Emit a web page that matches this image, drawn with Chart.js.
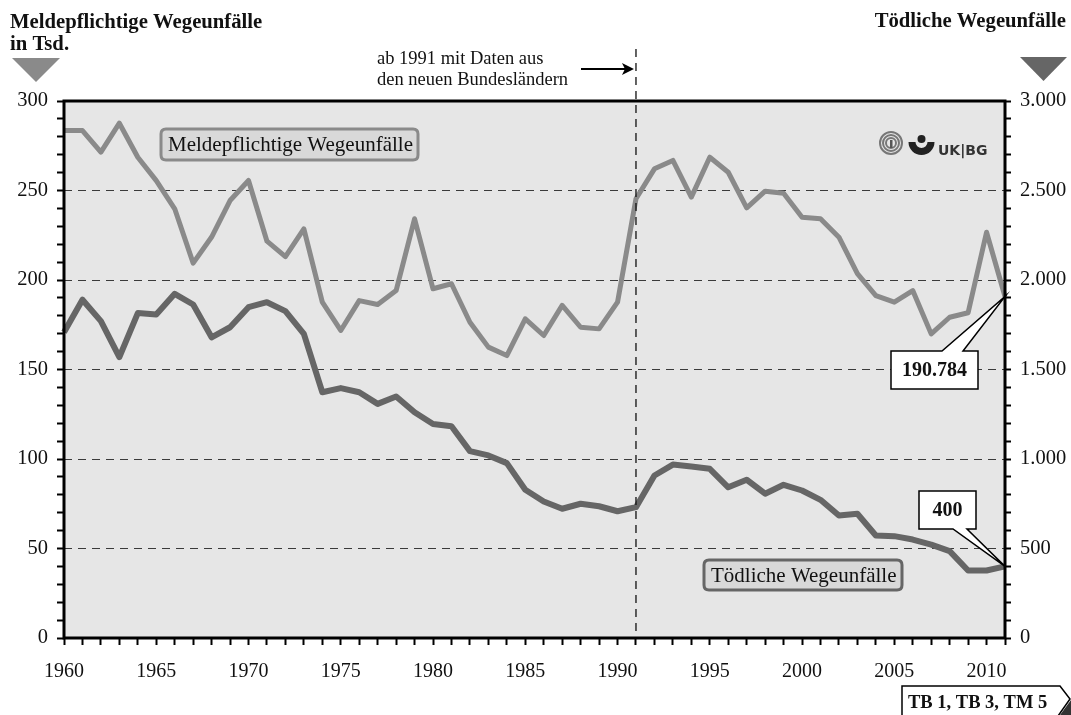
<!DOCTYPE html>
<html lang="de">
<head>
<meta charset="utf-8">
<title>Wegeunfälle 1960-2011</title>
<script src="https://cdn.jsdelivr.net/npm/chart.js@4.4.0/dist/chart.umd.min.js"></script>
<style>
  html, body { margin: 0; padding: 0; background: #fff; }
  #wrap { width: 1071px; height: 715px; }
</style>
</head>
<body>
<div id="wrap"><canvas id="chart" width="1071" height="715"></canvas></div>
<script>
// Jahre
const years = [1960, 1961, 1962, 1963, 1964, 1965, 1966, 1967, 1968, 1969,
  1970, 1971, 1972, 1973, 1974, 1975, 1976, 1977, 1978, 1979,
  1980, 1981, 1982, 1983, 1984, 1985, 1986, 1987, 1988, 1989,
  1990, 1991, 1992, 1993, 1994, 1995, 1996, 1997, 1998, 1999,
  2000, 2001, 2002, 2003, 2004, 2005, 2006, 2007, 2008, 2009,
  2010, 2011];

// Meldepflichtige Wegeunfälle in Tsd. (linke Achse)
const meldepflichtig = [283.5, 283.5, 271.4, 287.6, 268.6, 255.5, 239.8, 209.4, 224.0, 244.4,
  255.6, 221.7, 213.1, 228.6, 187.6, 171.8, 188.5, 186.3, 194.1, 234.2,
  195.1, 197.9, 176.4, 162.5, 157.8, 178.3, 169.0, 185.8, 173.6, 172.7,
  187.6, 245.4, 262.1, 266.8, 246.3, 268.6, 260.2, 240.3, 249.6, 248.5,
  235.1, 234.2, 223.9, 203.5, 191.3, 187.6, 194.1, 169.9, 179.2, 181.7,
  226.7, 190.784];

// Tödliche Wegeunfälle (rechte Achse)
const toedlich = [1708, 1890, 1770, 1569, 1815, 1807, 1923, 1863, 1680, 1736,
  1848, 1876, 1826, 1699, 1373, 1396, 1373, 1308, 1349, 1261,
  1196, 1183, 1044, 1020, 977, 828, 763, 722, 750, 736,
  708, 731, 908, 969, 958, 945, 842, 884, 806, 856,
  824, 772, 684, 694, 573, 569, 550, 522, 485, 377,
  377, 400];

// Achsen
const leftMax = 300, leftStep = 50, leftMinor = 10;
const rightMax = 3000, rightStep = 500, rightMinor = 100;

const serif = "'Liberation Serif', 'Times New Roman', serif";

function tausender(v) {
  // 3000 -> "3.000"
  const s = String(v);
  return s.length > 3 ? s.slice(0, s.length - 3) + "." + s.slice(-3) : s;
}

function roundRect(ctx, x, y, w, h, r) {
  ctx.beginPath();
  ctx.moveTo(x + r, y);
  ctx.lineTo(x + w - r, y);
  ctx.quadraticCurveTo(x + w, y, x + w, y + r);
  ctx.lineTo(x + w, y + h - r);
  ctx.quadraticCurveTo(x + w, y + h, x + w - r, y + h);
  ctx.lineTo(x + r, y + h);
  ctx.quadraticCurveTo(x, y + h, x, y + h - r);
  ctx.lineTo(x, y + r);
  ctx.quadraticCurveTo(x, y, x + r, y);
  ctx.closePath();
}

// Hintergrund, Rahmen, Beschriftungen
const deko = {
  id: "deko",
  beforeDraw(chart) {
    const { ctx, chartArea: a } = chart;
    ctx.save();
    ctx.fillStyle = "#e6e6e6";
    ctx.fillRect(a.left, a.top, a.right - a.left, a.bottom - a.top);
    ctx.restore();
  },
  afterDatasetsDraw(chart) {
    const { ctx, chartArea: a, scales } = chart;
    // Linie ab 1991
    const x91 = scales.x.getPixelForValue(years.indexOf(1991));
    ctx.save();
    ctx.strokeStyle = "#111";
    ctx.lineWidth = 1.3;
    ctx.setLineDash([8, 6]);
    ctx.beginPath();
    ctx.moveTo(x91, 49);
    ctx.lineTo(x91, a.bottom);
    ctx.stroke();
    ctx.setLineDash([]);

    // Pfeil
    ctx.strokeStyle = "#000";
    ctx.lineWidth = 2;
    ctx.beginPath();
    ctx.moveTo(581, 69);
    ctx.lineTo(x91 - 8, 69);
    ctx.stroke();
    ctx.fillStyle = "#000";
    ctx.beginPath();
    ctx.moveTo(x91 - 2, 69);
    ctx.lineTo(x91 - 14, 63);
    ctx.lineTo(x91 - 11, 69);
    ctx.lineTo(x91 - 14, 75);
    ctx.closePath();
    ctx.fill();

    ctx.font = "18.5px " + serif;
    ctx.fillStyle = "#111";
    ctx.textAlign = "left";
    ctx.textBaseline = "alphabetic";
    ctx.fillText("ab 1991 mit Daten aus", 377, 64);
    ctx.fillText("den neuen Bundesländern", 377, 85);

    // Rahmen
    ctx.strokeStyle = "#000";
    ctx.lineWidth = 3;
    ctx.strokeRect(a.left, a.top, a.right - a.left, a.bottom - a.top);

    // Serienbeschriftungen
    ctx.font = "21px " + serif;
    ctx.textBaseline = "middle";
    roundRect(ctx, 161, 129, 257, 31, 5);
    ctx.fillStyle = "#d9d9d9";
    ctx.fill();
    ctx.strokeStyle = "#8a8a8a";
    ctx.lineWidth = 3;
    ctx.stroke();
    ctx.fillStyle = "#111";
    ctx.fillText("Meldepflichtige Wegeunfälle", 168, 145);

    roundRect(ctx, 704, 560, 198, 30, 5);
    ctx.fillStyle = "#d9d9d9";
    ctx.fill();
    ctx.strokeStyle = "#666";
    ctx.stroke();
    ctx.fillStyle = "#111";
    ctx.fillText("Tödliche Wegeunfälle", 711, 576);

    // Werte 2011
    const last = years.length - 1;
    const p1 = chart.getDatasetMeta(0).data[last];
    const p2 = chart.getDatasetMeta(1).data[last];
    ctx.lineWidth = 1.5;
    ctx.strokeStyle = "#000";
    ctx.fillStyle = "#fff";
    // 190.784 (Spitze oben)
    ctx.beginPath();
    ctx.moveTo(891, 351);
    ctx.lineTo(942, 351);
    ctx.lineTo(p1.x, p1.y);
    ctx.lineTo(963, 351);
    ctx.lineTo(978, 351);
    ctx.lineTo(978, 389);
    ctx.lineTo(891, 389);
    ctx.closePath();
    ctx.fill();
    ctx.stroke();
    // 400 (Spitze unten)
    ctx.beginPath();
    ctx.moveTo(919, 491);
    ctx.lineTo(976, 491);
    ctx.lineTo(976, 529);
    ctx.lineTo(967, 529);
    ctx.lineTo(p2.x, p2.y);
    ctx.lineTo(953, 529);
    ctx.lineTo(919, 529);
    ctx.closePath();
    ctx.fill();
    ctx.stroke();
    ctx.fillStyle = "#111";
    ctx.font = "bold 20px " + serif;
    ctx.textAlign = "center";
    ctx.fillText("190.784", 934.5, 371);
    ctx.fillText("400", 947.5, 511);

    // Logo
    ctx.strokeStyle = "#777";
    ctx.lineWidth = 2;
    [11, 8, 5].forEach((r) => {
      ctx.beginPath();
      ctx.arc(891, 143, r, 0, Math.PI * 2);
      ctx.stroke();
    });
    ctx.fillStyle = "#555";
    ctx.fillRect(890, 140, 2.5, 8);
    ctx.fillStyle = "#222";
    ctx.beginPath();
    ctx.arc(921.5, 139, 4, 0, Math.PI * 2);
    ctx.fill();
    ctx.beginPath();
    ctx.arc(921.5, 142, 13, 0, Math.PI);
    ctx.arc(921.5, 142, 6, Math.PI, 0, true);
    ctx.closePath();
    ctx.fill();
    ctx.font = "bold 14px 'DejaVu Sans', sans-serif";
    ctx.textAlign = "left";
    ctx.textBaseline = "alphabetic";
    ctx.fillStyle = "#333";
    ctx.fillText("UK|BG", 938, 155);
    ctx.restore();
  },
  afterDraw(chart) {
    const { ctx } = chart;
    ctx.save();
    // Achsentitel
    ctx.fillStyle = "#111";
    ctx.font = "bold 20.7px " + serif;
    ctx.textBaseline = "alphabetic";
    ctx.textAlign = "left";
    ctx.fillText("Meldepflichtige Wegeunfälle", 10, 28);
    ctx.fillText("in Tsd.", 10, 50);
    ctx.textAlign = "right";
    ctx.fillText("Tödliche Wegeunfälle", 1066, 27);

    // Dreiecke
    ctx.fillStyle = "#8a8a8a";
    ctx.beginPath();
    ctx.moveTo(12, 58);
    ctx.lineTo(60, 58);
    ctx.lineTo(36, 82);
    ctx.closePath();
    ctx.fill();
    ctx.fillStyle = "#666";
    ctx.beginPath();
    ctx.moveTo(1020, 57);
    ctx.lineTo(1067, 57);
    ctx.lineTo(1043.5, 81);
    ctx.closePath();
    ctx.fill();

    // Fußzeile
    ctx.fillStyle = "#333";
    ctx.beginPath();
    ctx.moveTo(1060, 715);
    ctx.lineTo(1071, 700);
    ctx.lineTo(1071, 715);
    ctx.closePath();
    ctx.fill();
    ctx.fillStyle = "#fff";
    ctx.strokeStyle = "#000";
    ctx.lineWidth = 1.5;
    ctx.beginPath();
    ctx.moveTo(902, 716);
    ctx.lineTo(902, 686);
    ctx.lineTo(1060, 686);
    ctx.lineTo(1070, 699);
    ctx.lineTo(1058, 716);
    ctx.stroke();
    ctx.fillStyle = "#111";
    ctx.font = "bold 18.5px " + serif;
    ctx.textAlign = "left";
    ctx.fillText("TB 1, TB 3, TM 5", 908, 708);
    ctx.restore();
  }
};

const ctx = document.getElementById("chart").getContext("2d");

new Chart(ctx, {
  type: "line",
  data: {
    labels: years,
    datasets: [
      {
        label: "Meldepflichtige Wegeunfälle",
        data: meldepflichtig,
        yAxisID: "y",
        borderColor: "#8a8a8a",
        borderWidth: 5,
        pointRadius: 0,
        tension: 0,
        borderJoinStyle: "round",
        fill: false
      },
      {
        label: "Tödliche Wegeunfälle",
        data: toedlich,
        yAxisID: "y1",
        borderColor: "#666666",
        borderWidth: 6,
        pointRadius: 0,
        tension: 0,
        borderJoinStyle: "round",
        fill: false
      }
    ]
  },
  options: {
    responsive: false,
    animation: false,
    events: [],
    layout: { padding: { top: 101, left: 0, right: 0, bottom: 0 } },
    plugins: {
      legend: { display: false },
      tooltip: { enabled: false }
    },
    scales: {
      x: {
        type: "category",
        offset: false,
        afterFit(scale) { scale.height = 77; },
        border: { display: false },
        grid: {
          drawOnChartArea: false,
          drawTicks: true,
          tickLength: 7,
          tickWidth: 2,
          tickColor: "#000"
        },
        ticks: {
          autoSkip: false,
          maxRotation: 0,
          padding: 15,
          color: "#111",
          font: { family: serif, size: 20 },
          callback(value) {
            const y = Number(this.getLabelForValue(value));
            return y % 5 === 0 ? String(y) : "";
          }
        }
      },
      y: {
        position: "left",
        min: 0,
        max: leftMax,
        afterFit(scale) { scale.width = 64; },
        border: { display: false, dash: [8, 6] },
        grid: {
          color(c) {
            const v = c.tick ? c.tick.value : 0;
            return v % leftStep === 0 && v > 0 && v < leftMax ? "#3a3a3a" : "rgba(0,0,0,0)";
          },
          lineWidth: 1,
          tickLength: 7,
          tickWidth: 2,
          tickColor: "#000"
        },
        ticks: {
          stepSize: leftMinor,
          autoSkip: false,
          padding: 9,
          color: "#111",
          font: { family: serif, size: 20.5 },
          callback(v) { return v % leftStep === 0 ? String(v) : ""; }
        }
      },
      y1: {
        position: "right",
        min: 0,
        max: rightMax,
        afterFit(scale) { scale.width = 66; },
        border: { display: false },
        grid: {
          drawOnChartArea: false,
          tickLength: 6,
          tickWidth: 2,
          tickColor: "#000"
        },
        ticks: {
          stepSize: rightMinor,
          autoSkip: false,
          padding: 9,
          color: "#111",
          font: { family: serif, size: 20.5 },
          callback(v) { return v % rightStep === 0 ? tausender(v) : ""; }
        }
      }
    }
  },
  plugins: [deko]
});
</script>
</body>
</html>
